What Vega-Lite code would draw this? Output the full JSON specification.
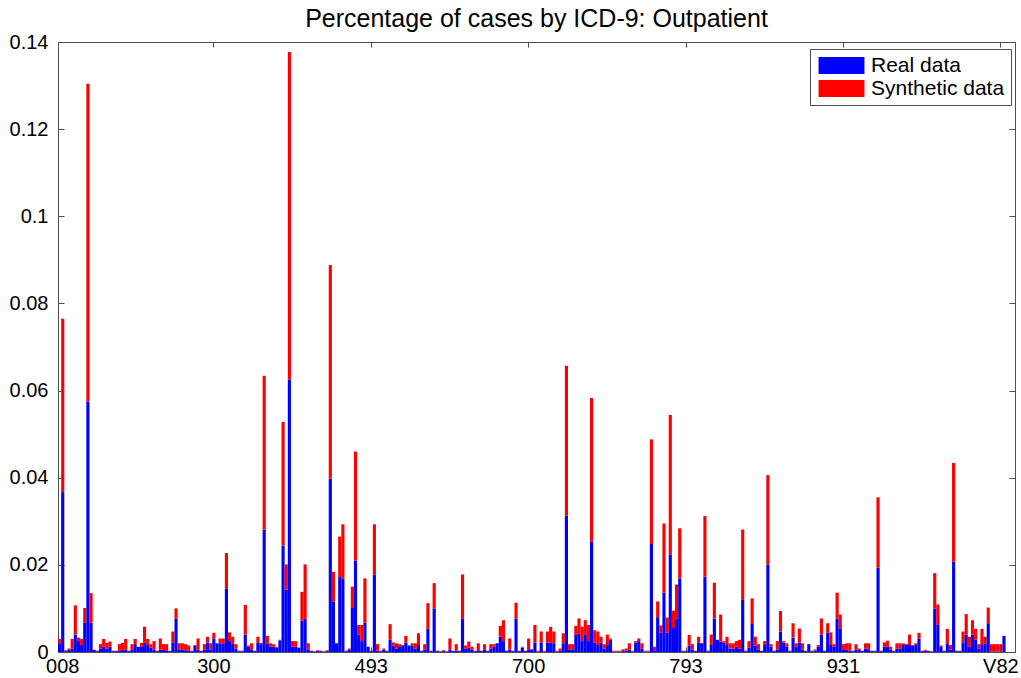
{
"$schema": "https://vega.github.io/schema/vega-lite/v6.json",
"width": 957, "height": 610,
"autosize": {"type": "none"},
"padding": {"left": 58, "top": 42, "right": 6, "bottom": 26},
"background": "white",
"config": {"font": "Liberation Sans", "view": {"stroke": "#4d4d4d", "strokeWidth": 1}},
"title": {"text": "Percentage of cases by ICD-9: Outpatient", "fontSize": 25, "fontWeight": "normal", "color": "black", "offset": 0, "font": "Liberation Sans"},
"data": {"values": [
{"i":1,"r":0.002,"s":0.001},{"i":2,"r":0.0367,"s":0.0398},{"i":3,"r":0.0002,"s":0.0002},{"i":4,"r":0.0005,"s":0.0003},{"i":5,"r":0.0008,"s":0.0022},{"i":6,"r":0.004,"s":0.0067},{"i":7,"r":0.0025,"s":0.0008},{"i":8,"r":0.0016,"s":0.0014},{"i":9,"r":0.0067,"s":0.0034},{"i":10,"r":0.0575,"s":0.0729},
{"i":11,"r":0.0067,"s":0.0068},{"i":12,"r":0.0005,"s":0},{"i":13,"r":0.0002,"s":0.0001},{"i":14,"r":0.0008,"s":0.001},{"i":15,"r":0.0012,"s":0.0018},{"i":16,"r":0.0008,"s":0.0013},{"i":17,"r":0.0012,"s":0.0012},{"i":18,"r":0.0002,"s":0.0001},{"i":19,"r":0.0002,"s":0.0001},{"i":20,"r":0.0003,"s":0.0015},
{"i":21,"r":0.0005,"s":0.0016},{"i":22,"r":0.0005,"s":0.0025},{"i":23,"r":0.0002,"s":0.0001},{"i":24,"r":0.0005,"s":0.0013},{"i":25,"r":0.0018,"s":0.0012},{"i":26,"r":0.0012,"s":0},{"i":27,"r":0.0012,"s":0.0009},{"i":28,"r":0.0022,"s":0.0036},{"i":29,"r":0.0016,"s":0.0014},{"i":30,"r":0.001,"s":0.0008},
{"i":31,"r":0.0006,"s":0.0019},{"i":32,"r":0.0002,"s":0.0001},{"i":33,"r":0.0005,"s":0.0026},{"i":34,"r":0.0005,"s":0.0013},{"i":35,"r":0.0004,"s":0.0014},{"i":36,"r":0.0002,"s":0.0001},{"i":37,"r":0.0022,"s":0.0025},{"i":38,"r":0.0076,"s":0.0024},{"i":39,"r":0.0006,"s":0.0014},{"i":40,"r":0.0006,"s":0.0014},
{"i":41,"r":0.0004,"s":0.0014},{"i":42,"r":0.0003,"s":0.0012},{"i":43,"r":0.0002,"s":0.0001},{"i":44,"r":0.0015,"s":0.0001},{"i":45,"r":0.0005,"s":0.0026},{"i":46,"r":0.0002,"s":0.0001},{"i":47,"r":0.0006,"s":0.0012},{"i":48,"r":0.0022,"s":0.0013},{"i":49,"r":0.0005,"s":0.0015},{"i":50,"r":0.0031,"s":0.0013},
{"i":51,"r":0.002,"s":0},{"i":52,"r":0.002,"s":0.0011},{"i":53,"r":0.002,"s":0.0011},{"i":54,"r":0.0146,"s":0.0081},{"i":55,"r":0.0025,"s":0.002},{"i":56,"r":0.002,"s":0.0015},{"i":57,"r":0.0008,"s":0.001},{"i":58,"r":0.0002,"s":0.0001},{"i":59,"r":0.0002,"s":0.0001},{"i":60,"r":0.004,"s":0.0068},
{"i":61,"r":0.0012,"s":0.0003},{"i":62,"r":0.0006,"s":0.0014},{"i":63,"r":0.0002,"s":0.0001},{"i":64,"r":0.0022,"s":0.0013},{"i":65,"r":0.0018,"s":0.0003},{"i":66,"r":0.0281,"s":0.0353},{"i":67,"r":0.002,"s":0.0017},{"i":68,"r":0.0012,"s":0.0008},{"i":69,"r":0.0012,"s":0.0006},{"i":70,"r":0.001,"s":0.0002},
{"i":71,"r":0.0026,"s":0.0002},{"i":72,"r":0.0244,"s":0.0284},{"i":73,"r":0.0143,"s":0.0058},{"i":74,"r":0.0625,"s":0.0752},{"i":75,"r":0.0012,"s":0.0013},{"i":76,"r":0.0012,"s":0.0013},{"i":77,"r":0.001,"s":0},{"i":78,"r":0.0072,"s":0.0066},{"i":79,"r":0.0076,"s":0.0125},{"i":80,"r":0.0006,"s":0.0014},
{"i":81,"r":0.0002,"s":0.0001},{"i":82,"r":0.0001,"s":0.0001},{"i":83,"r":0.0002,"s":0.0002},{"i":84,"r":0.0002,"s":0.0001},{"i":85,"r":0.0001,"s":0.0001},{"i":86,"r":0.0002,"s":0.0002},{"i":87,"r":0.0398,"s":0.049},{"i":88,"r":0.0116,"s":0.0068},{"i":89,"r":0.002,"s":0},{"i":90,"r":0.0172,"s":0.0093},
{"i":91,"r":0.0169,"s":0.0124},{"i":92,"r":0.0002,"s":0.0001},{"i":93,"r":0.0006,"s":0.0002},{"i":94,"r":0.0101,"s":0.0049},{"i":95,"r":0.021,"s":0.025},{"i":96,"r":0.004,"s":0.0022},{"i":97,"r":0.0025,"s":0.0037},{"i":98,"r":0.0067,"s":0.0102},{"i":99,"r":0.0012,"s":0},{"i":100,"r":0.0002,"s":0.0001},
{"i":101,"r":0.0178,"s":0.0115},{"i":102,"r":0.0003,"s":0.0015},{"i":103,"r":0.0002,"s":0.0001},{"i":104,"r":0.0006,"s":0.0002},{"i":105,"r":0.0002,"s":0.0001},{"i":106,"r":0.0029,"s":0.0035},{"i":107,"r":0.0015,"s":0.0007},{"i":108,"r":0.0008,"s":0.0012},{"i":109,"r":0.0012,"s":0.0006},{"i":110,"r":0.0015,"s":0.0001},
{"i":111,"r":0.0022,"s":0.0015},{"i":112,"r":0.0015,"s":0},{"i":113,"r":0.0015,"s":0.0005},{"i":114,"r":0.0008,"s":0.0012},{"i":115,"r":0.0016,"s":0.0027},{"i":116,"r":0.0002,"s":0.0001},{"i":117,"r":0.0006,"s":0.0012},{"i":118,"r":0.0053,"s":0.0059},{"i":119,"r":0.0002,"s":0.0001},{"i":120,"r":0.01,"s":0.0058},
{"i":121,"r":0.0002,"s":0.0001},{"i":122,"r":0.0001,"s":0.0001},{"i":123,"r":0.0002,"s":0.0002},{"i":124,"r":0.0001,"s":0.0001},{"i":125,"r":0.0006,"s":0.0025},{"i":126,"r":0.0002,"s":0.0001},{"i":127,"r":0.0003,"s":0.0015},{"i":128,"r":0.0002,"s":0.0001},{"i":129,"r":0.0076,"s":0.0102},{"i":130,"r":0.0008,"s":0.0007},
{"i":131,"r":0.001,"s":0.0014},{"i":132,"r":0.0005,"s":0.0007},{"i":133,"r":0.0002,"s":0.0001},{"i":134,"r":0.0004,"s":0.0016},{"i":135,"r":0.0002,"s":0.0001},{"i":136,"r":0.0006,"s":0.0012},{"i":137,"r":0.0002,"s":0.0001},{"i":138,"r":0.0008,"s":0.001},{"i":139,"r":0.0012,"s":0.0006},{"i":140,"r":0.002,"s":0},
{"i":141,"r":0.0035,"s":0.0025},{"i":142,"r":0.0025,"s":0.0048},{"i":143,"r":0.0002,"s":0.0001},{"i":144,"r":0.0006,"s":0.0025},{"i":145,"r":0.0002,"s":0.0001},{"i":146,"r":0.0077,"s":0.0036},{"i":147,"r":0.0002,"s":0.0001},{"i":148,"r":0.001,"s":0.0002},{"i":149,"r":0.0002,"s":0.0001},{"i":150,"r":0.0006,"s":0.0025},
{"i":151,"r":0.0006,"s":0},{"i":152,"r":0.0022,"s":0.004},{"i":153,"r":0.0001,"s":0.0002},{"i":154,"r":0.0022,"s":0.0025},{"i":155,"r":0.0001,"s":0.0002},{"i":156,"r":0.0022,"s":0.0025},{"i":157,"r":0.0022,"s":0.0036},{"i":158,"r":0.002,"s":0.0027},{"i":159,"r":0.0001,"s":0.0002},{"i":160,"r":0.0003,"s":0.0005},
{"i":161,"r":0.002,"s":0.0023},{"i":162,"r":0.0313,"s":0.0344},{"i":163,"r":0.0006,"s":0.0012},{"i":164,"r":0.0006,"s":0.0012},{"i":165,"r":0.0039,"s":0.0021},{"i":166,"r":0.0043,"s":0.0034},{"i":167,"r":0.0025,"s":0.0033},{"i":168,"r":0.0039,"s":0.0034},{"i":169,"r":0.0025,"s":0.0037},{"i":170,"r":0.0254,"s":0.0329},
{"i":171,"r":0.0022,"s":0.0028},{"i":172,"r":0.0016,"s":0.0031},{"i":173,"r":0.0022,"s":0.0013},{"i":174,"r":0.0008,"s":0.001},{"i":175,"r":0.0016,"s":0.0024},{"i":176,"r":0.0028,"s":0.0003},{"i":177,"r":0.0001,"s":0.0002},{"i":178,"r":0.0001,"s":0.0002},{"i":179,"r":0.0001,"s":0.0002},{"i":180,"r":0.0002,"s":0.0004},
{"i":181,"r":0.0003,"s":0.0005},{"i":182,"r":0.0006,"s":0.0014},{"i":183,"r":0.0001,"s":0.0002},{"i":184,"r":0.0022,"s":0.0003},{"i":185,"r":0.0025,"s":0.0006},{"i":186,"r":0.0008,"s":0.0012},{"i":187,"r":0.0001,"s":0.0002},{"i":188,"r":0.0001,"s":0.0002},{"i":189,"r":0.0248,"s":0.024},{"i":190,"r":0.0004,"s":0.0008},
{"i":191,"r":0.008,"s":0.0036},{"i":192,"r":0.0044,"s":0.0017},{"i":193,"r":0.0136,"s":0.0159},{"i":194,"r":0.0044,"s":0.0035},{"i":195,"r":0.0224,"s":0.032},{"i":196,"r":0.0055,"s":0.004},{"i":197,"r":0.0076,"s":0.0079},{"i":198,"r":0.0169,"s":0.0115},{"i":199,"r":0.0002,"s":0.0001},{"i":200,"r":0.0002,"s":0.0001},
{"i":201,"r":0.0015,"s":0.0024},{"i":202,"r":0.0006,"s":0.0012},{"i":203,"r":0.0002,"s":0.0001},{"i":204,"r":0.0022,"s":0.0013},{"i":205,"r":0.002,"s":0.0001},{"i":206,"r":0.0173,"s":0.0139},{"i":207,"r":0.0002,"s":0.0001},{"i":208,"r":0.0016,"s":0.0024},{"i":209,"r":0.0077,"s":0.0082},{"i":210,"r":0.0028,"s":0},
{"i":211,"r":0.0024,"s":0.0062},{"i":212,"r":0.0022,"s":0.0003},{"i":213,"r":0.0018,"s":0.0017},{"i":214,"r":0.0008,"s":0.0012},{"i":215,"r":0.0008,"s":0.0012},{"i":216,"r":0.0012,"s":0.0013},{"i":217,"r":0.0008,"s":0.002},{"i":218,"r":0.0121,"s":0.016},{"i":219,"r":0.0002,"s":0.0001},{"i":220,"r":0.001,"s":0.0015},
{"i":221,"r":0.0066,"s":0.0057},{"i":222,"r":0.0015,"s":0.002},{"i":223,"r":0.0006,"s":0.0012},{"i":224,"r":0.0002,"s":0.0001},{"i":225,"r":0.0016,"s":0.0009},{"i":226,"r":0.0201,"s":0.0205},{"i":227,"r":0.0012,"s":0.0006},{"i":228,"r":0.0002,"s":0.0001},{"i":229,"r":0.0006,"s":0.0019},{"i":230,"r":0.0047,"s":0.0047},
{"i":231,"r":0.0022,"s":0.0003},{"i":232,"r":0.0012,"s":0.0008},{"i":233,"r":0.0002,"s":0.0001},{"i":234,"r":0.0033,"s":0.0033},{"i":235,"r":0.0012,"s":0.0008},{"i":236,"r":0.0022,"s":0.0032},{"i":237,"r":0.0006,"s":0.0014},{"i":238,"r":0.0002,"s":0.0001},{"i":239,"r":0.0018,"s":0},{"i":240,"r":0.0002,"s":0.0001},
{"i":241,"r":0.0003,"s":0.0003},{"i":242,"r":0.0012,"s":0.0004},{"i":243,"r":0.004,"s":0.0037},{"i":244,"r":0.0002,"s":0.0001},{"i":245,"r":0.0045,"s":0.0021},{"i":246,"r":0.0016,"s":0.0029},{"i":247,"r":0.0012,"s":0.0006},{"i":248,"r":0.0077,"s":0.0059},{"i":249,"r":0.0053,"s":0.0033},{"i":250,"r":0.0006,"s":0.0012},
{"i":251,"r":0.0006,"s":0.0014},{"i":252,"r":0.0003,"s":0.0017},{"i":253,"r":0.0002,"s":0.0001},{"i":254,"r":0.0006,"s":0.0012},{"i":255,"r":0.0006,"s":0.0002},{"i":256,"r":0.0002,"s":0.0001},{"i":257,"r":0.0008,"s":0.0012},{"i":258,"r":0.0006,"s":0.0014},{"i":259,"r":0.0002,"s":0.0001},{"i":260,"r":0.0002,"s":0.0001},
{"i":261,"r":0.0194,"s":0.0161},{"i":262,"r":0.0002,"s":0.0001},{"i":263,"r":0.0012,"s":0.001},{"i":264,"r":0.0012,"s":0.0014},{"i":265,"r":0.0006,"s":0.0006},{"i":266,"r":0.0002,"s":0.0001},{"i":267,"r":0.0008,"s":0.0012},{"i":268,"r":0.0008,"s":0.0012},{"i":269,"r":0.0016,"s":0.0004},{"i":270,"r":0.0016,"s":0.0002},
{"i":271,"r":0.0016,"s":0.0024},{"i":272,"r":0.0015,"s":0.0001},{"i":273,"r":0.0016,"s":0.0004},{"i":274,"r":0.0031,"s":0.0013},{"i":275,"r":0.0002,"s":0.0001},{"i":276,"r":0.0003,"s":0.0002},{"i":277,"r":0.0002,"s":0.0001},{"i":278,"r":0.0001,"s":0.0001},{"i":279,"r":0.01,"s":0.0081},{"i":280,"r":0.0062,"s":0.0047},
{"i":281,"r":0.0012,"s":0.0003},{"i":282,"r":0.0002,"s":0.0001},{"i":283,"r":0.002,"s":0.0033},{"i":284,"r":0.0006,"s":0.001},{"i":285,"r":0.0207,"s":0.0227},{"i":286,"r":0.0002,"s":0.0001},{"i":287,"r":0.0002,"s":0.0001},{"i":288,"r":0.0022,"s":0.0025},{"i":289,"r":0.004,"s":0.0047},{"i":290,"r":0.0012,"s":0.0023},
{"i":291,"r":0.004,"s":0.0033},{"i":292,"r":0.0028,"s":0.0025},{"i":293,"r":0.0008,"s":0.001},{"i":294,"r":0.0018,"s":0.0035},{"i":295,"r":0.002,"s":0.0015},{"i":296,"r":0.0066,"s":0.0036},{"i":297,"r":0.0001,"s":0.0017},{"i":298,"r":0.0001,"s":0.0017},{"i":299,"r":0.0001,"s":0.0017},{"i":300,"r":0.0001,"s":0.0017},
{"i":301,"r":0.0037,"s":0},{"i":302,"r":0,"s":0},{"i":303,"r":0,"s":0},{"i":304,"r":0,"s":0}
]},
"transform": [{"fold": ["r", "s"], "as": ["series", "pct"]}],
"layer": [
{
"mark": {"type": "bar"},
"encoding": {
"x": {"field": "i", "type": "ordinal", "scale": {"paddingInner": 0, "paddingOuter": 0},
 "axis": {"orient": "bottom", "title": null, "values": [2, 50, 100, 150, 200, 250, 300], "labelAngle": 0, "labelOverlap": false, "labelFlush": false, "labelBound": false,
  "labelExpr": "datum.label == '50' ? '300' : datum.label == '100' ? '493' : datum.label == '150' ? '700' : datum.label == '200' ? '793' : datum.label == '250' ? '931' : datum.label == '300' ? 'V82' : '008'",
  "domain": false, "tickSize": -5, "tickColor": "#4d4d4d", "labelPadding": 9, "labelFontSize": 20, "labelColor": "black", "labelFont": "Liberation Sans", "labelBaseline": "top"}},
"y": {"field": "pct", "type": "quantitative", "stack": "zero", "scale": {"domain": [0, 0.14], "nice": false},
 "axis": {"title": null, "values": [0, 0.02, 0.04, 0.06, 0.08, 0.1, 0.12, 0.14], "format": "~g", "grid": false, "domain": false,
  "tickSize": -6, "tickColor": "#4d4d4d", "labelPadding": 16, "labelFontSize": 20, "labelColor": "black", "labelFont": "Liberation Sans"}},
"color": {"field": "series", "type": "nominal", "scale": {"domain": ["r", "s"], "range": ["#0000ff", "#ff0000"]},
 "legend": {"title": null, "orient": "none", "legendX": 752, "legendY": 7, "direction": "vertical",
  "labelExpr": "datum.label == 'r' ? 'Real data' : 'Synthetic data'",
  "fillColor": "white", "strokeColor": "#4d4d4d", "padding": 6, "rowPadding": 1,
  "symbolType": "M-2.7,-1L2.7,-1L2.7,1L-2.7,1Z", "symbolSize": 289, "symbolOffset": 15, "symbolStrokeWidth": 0, "symbolOpacity": 1,
  "labelFontSize": 21, "labelFont": "Liberation Sans", "labelColor": "black", "labelOffset": 19}},
"order": {"field": "series", "sort": "ascending"}
}
},
{
"mark": {"type": "bar", "opacity": 0},
"encoding": {
"x": {"field": "i", "type": "ordinal",
 "axis": {"orient": "top", "title": null, "values": [1, 50, 100, 150, 200, 250, 300], "labels": false, "domain": false, "tickSize": -5, "tickColor": "#4d4d4d"}},
"y": {"field": "pct", "type": "quantitative",
 "axis": {"orient": "right", "title": null, "values": [0, 0.02, 0.04, 0.06, 0.08, 0.1, 0.12, 0.14], "labels": false, "grid": false, "domain": false, "tickSize": -6, "tickColor": "#4d4d4d"}}
}
}
],
"resolve": {"axis": {"x": "independent", "y": "independent"}}
}
